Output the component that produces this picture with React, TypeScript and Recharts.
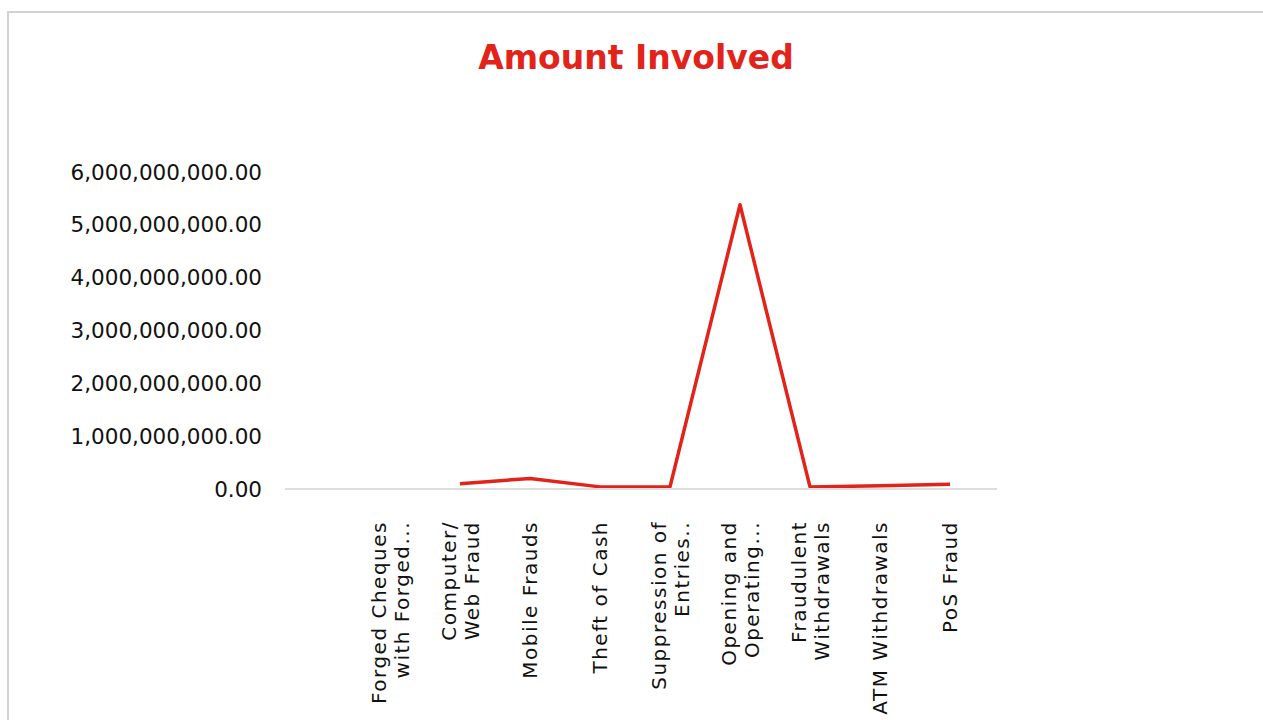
import React from 'react';
import { LineChart, Line, XAxis, YAxis } from 'recharts';

const categories = [
  'Forged Cheques with Forged Signatures',
  'Computer/ Web Fraud',
  'Mobile Frauds',
  'Theft of Cash',
  'Suppression of Entries',
  'Opening and Operating Accounts',
  'Fraudulent Withdrawals',
  'ATM Withdrawals',
  'PoS Fraud',
];

const tickLines: string[][] = [
  ['Forged Cheques', 'with Forged...'],
  ['Computer/', 'Web Fraud'],
  ['Mobile Frauds'],
  ['Theft of Cash'],
  ['Suppression of', 'Entries..'],
  ['Opening and', 'Operating...'],
  ['Fraudulent', 'Withdrawals'],
  ['ATM Withdrawals'],
  ['PoS Fraud'],
];

const amounts: (number | null)[] = [
  null, 100000000, 200000000, 40000000, 40000000, 5380000000, 40000000, 60000000, 90000000,
];

const yTicks = [0, 1000000000, 2000000000, 3000000000, 4000000000, 5000000000, 6000000000];

const data = categories.map((name, i) => ({ name, amount: amounts[i] }));

const RED = '#e2231a';
const FONT = '"DejaVu Sans", sans-serif';

const fmt = (v: number) =>
  v.toLocaleString('en-US', { minimumFractionDigits: 2, maximumFractionDigits: 2 });

const XTick = (props: any) => {
  const { x, y, index } = props;
  const lines = tickLines[index] || [];
  const n = lines.length;
  return (
    <g transform={`translate(${x},${y + 24})`}>
      {lines.map((l, i) => (
        <text
          key={i}
          transform="rotate(-90)"
          x={0}
          y={(i - (n - 1) / 2) * 23}
          textAnchor="end"
          dominantBaseline="central"
          fill="#111"
          fontSize={20}
          letterSpacing={1.5}
          fontFamily={FONT}
        >
          {l}
        </text>
      ))}
    </g>
  );
};

const YTick = (props: any) => {
  const { y, payload } = props;
  return (
    <text x={262} y={y} textAnchor="end" dominantBaseline="central" fill="#111" fontSize={21.5} fontFamily={FONT}>
      {fmt(payload.value)}
    </text>
  );
};

export default function App() {
  return (
    <div style={{ position: 'absolute', left: 0, top: 0, width: 1263, height: 720, overflow: 'hidden', background: '#fff' }}>
      <div
        style={{
          position: 'absolute',
          left: 7,
          top: 11,
          width: 1300,
          height: 800,
          border: '2px solid #d3d3d3',
          boxSizing: 'border-box',
        }}
      />
      <div
        style={{
          position: 'absolute',
          left: 0,
          top: 35,
          width: 1272,
          textAlign: 'center',
          color: RED,
          fontFamily: FONT,
          fontWeight: 700,
          fontSize: 33,
          lineHeight: '46px',
        }}
      >
        Amount Involved
      </div>
      <div style={{ position: 'absolute', left: 0, top: 0 }}>
        <LineChart width={1263} height={720} data={data} margin={{ top: 172, right: 266, bottom: 0, left: 0 }}>
          <XAxis
            dataKey="name"
            height={231}
            interval={0}
            tick={<XTick />}
            tickLine={false}
            axisLine={{ stroke: '#dddddd', strokeWidth: 2 }}
            padding={{ left: 105, right: 47 }}
          />
          <YAxis
            width={285}
            domain={[0, 6000000000]}
            ticks={yTicks}
            tick={<YTick />}
            tickLine={false}
            axisLine={false}
          />
          <Line
            type="linear"
            dataKey="amount"
            stroke={RED}
            strokeWidth={3.5}
            strokeLinejoin="round"
            dot={false}
            isAnimationActive={false}
          />
        </LineChart>
      </div>
    </div>
  );
}
